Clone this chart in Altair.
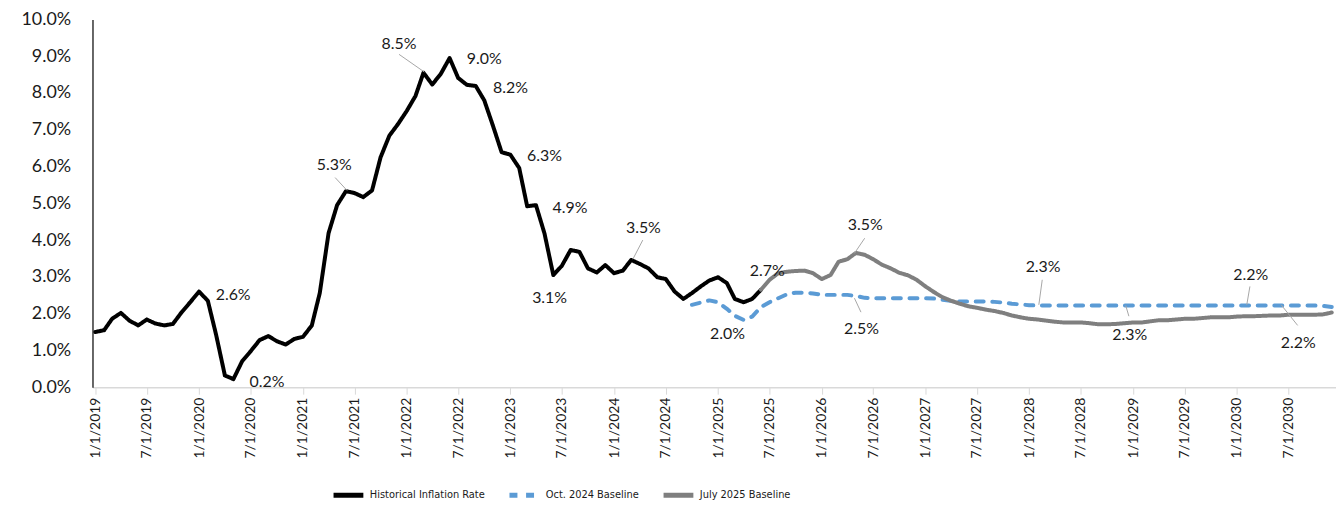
import altair as alt
import pandas as pd

# ---------------- data (percent) ----------------
hist_start = "2019-01-01"
hist_values = [
    1.50, 1.55, 1.86, 2.02, 1.81, 1.68, 1.84, 1.73, 1.68, 1.72, 2.04, 2.31,
    2.60, 2.35, 1.43, 0.32, 0.22, 0.71, 0.98, 1.28, 1.39, 1.25, 1.16, 1.31,
    1.37, 1.68, 2.56, 4.19, 4.95, 5.33, 5.28, 5.17, 5.35, 6.25, 6.84, 7.15,
    7.51, 7.92, 8.55, 8.23, 8.52, 8.95, 8.41, 8.22, 8.19, 7.80, 7.10, 6.39,
    6.32, 5.96, 4.92, 4.95, 4.18, 3.05, 3.30, 3.73, 3.68, 3.23, 3.12, 3.32,
    3.10, 3.17, 3.46, 3.35, 3.23, 2.99, 2.94, 2.60, 2.40, 2.56, 2.74, 2.90,
    2.99, 2.83, 2.40, 2.31, 2.40, 2.65,
]

oct24_start = "2024-10-01"
oct24_values = [
    2.24, 2.30, 2.36,
    2.31, 2.13, 1.94, 1.83, 1.92, 2.18, 2.31, 2.42, 2.53, 2.57, 2.57, 2.55,
    2.51, 2.51, 2.51, 2.51, 2.48, 2.43, 2.42, 2.42, 2.42, 2.42, 2.42, 2.42,
    2.42, 2.41, 2.38, 2.35, 2.33, 2.33, 2.33, 2.33, 2.32, 2.30, 2.27, 2.25,
    2.23, 2.22, 2.22, 2.22, 2.22, 2.22, 2.22, 2.22, 2.22, 2.22, 2.22, 2.22,
    2.22, 2.22, 2.22, 2.22, 2.22, 2.22, 2.22, 2.22, 2.22, 2.22, 2.22, 2.22,
    2.22, 2.22, 2.22, 2.22, 2.22, 2.22, 2.22, 2.22, 2.22, 2.22, 2.21, 2.18,
]

jul25_start = "2025-06-01"
jul25_values = [
    2.65, 2.92, 3.10, 3.14, 3.16, 3.17, 3.10,
    2.94, 3.05, 3.41, 3.48, 3.65, 3.60, 3.48, 3.33, 3.23, 3.11, 3.04, 2.92,
    2.74, 2.58, 2.45, 2.35, 2.27, 2.20, 2.16, 2.11, 2.07, 2.02, 1.95, 1.90,
    1.86, 1.84, 1.81, 1.78, 1.76, 1.76, 1.76, 1.74, 1.71, 1.71, 1.72, 1.74,
    1.76, 1.76, 1.79, 1.82, 1.82, 1.84, 1.86, 1.86, 1.88, 1.90, 1.90, 1.90,
    1.92, 1.93, 1.93, 1.94, 1.95, 1.95, 1.97, 1.97, 1.97, 1.97, 1.98, 2.03,
]

series_names = ["Historical Inflation Rate", "Oct. 2024 Baseline", "July 2025 Baseline"]
series_colors = ["#000000", "#5B9BD5", "#7F7F7F"]
series_dashes = [[1, 0], [8, 8.7], [1, 0]]

# data labels
ann_text = ["2.6%", "0.2%", "5.3%", "8.5%", "9.0%", "8.2%", "6.3%", "4.9%", "3.5%",
            "3.1%", "2.0%", "2.7%", "3.5%", "2.5%", "2.3%", "2.3%", "2.2%", "2.2%"]
ann_date = ["2020-04-30", "2020-08-27", "2021-04-21", "2021-12-05", "2022-10-01",
            "2023-01-01", "2023-05-01", "2023-07-30", "2024-04-13", "2023-05-19",
            "2025-02-03", "2025-06-23", "2026-06-03", "2026-05-21", "2028-02-19",
            "2028-12-20", "2030-02-19", "2030-08-05"]
ann_value = [2.51, 0.14, 6.03, 9.34, 8.91, 8.13, 6.28, 4.87, 4.33,
             2.42, 1.45, 3.17, 4.41, 1.59, 3.28, 1.43, 3.05, 1.21]

# leader lines for some labels
lead_date1 = ["2021-04-24", "2021-12-05", "2024-04-11", "2026-06-01", "2026-04-26",
              "2028-02-16", "2028-12-06", "2030-02-16", "2030-06-06"]
lead_value1 = [5.70, 9.05, 4.00, 4.05, 2.42, 2.92, 2.22, 2.74, 2.24]
lead_date2 = ["2021-06-05", "2022-03-04", "2024-03-07", "2026-04-26", "2026-05-19",
              "2028-02-04", "2028-12-17", "2030-02-05", "2030-08-03"]
lead_value2 = [5.35, 8.57, 3.48, 3.64, 2.04, 2.24, 1.93, 2.24, 1.68]

tick_years = list(range(2019, 2031))
y_ticks = [0, 1, 2, 3, 4, 5, 6, 7, 8, 9, 10]

# ---------------- tables ----------------
frames = []
for name, start, vals in [(series_names[0], hist_start, hist_values),
                          (series_names[1], oct24_start, oct24_values),
                          (series_names[2], jul25_start, jul25_values)]:
    dates = pd.date_range(start, periods=len(vals), freq="MS")
    frames.append(pd.DataFrame({"date": dates.strftime("%Y-%m-%d"),
                                "value": vals, "series": name}))
lines_df = pd.concat(frames, ignore_index=True)
ann_df = pd.DataFrame({"text": ann_text, "date": ann_date, "value": ann_value})
lead_df = pd.DataFrame({"d1": lead_date1, "v1": lead_value1,
                        "d2": lead_date2, "v2": lead_value2})

tick_values = []
for yr in tick_years:
    tick_values.append(alt.DateTime(year=yr, month=1, date=1))
    tick_values.append(alt.DateTime(year=yr, month=7, date=1))

FONT = "Lato"
x_scale = alt.Scale(domain=["2018-12-22", "2030-12-16"])
y_scale = alt.Scale(domain=[0, 10], nice=False)

legend = alt.Legend(orient="none", legendX=240, legendY=461, direction="horizontal",
                    columns=3, title=None, symbolType="stroke", symbolSize=900,
                    symbolStrokeWidth=5, labelFont="DejaVu Sans Condensed, Lato",
                    labelFontSize=11, labelColor="#1a1a1a", labelOffset=4,
                    columnPadding=14, padding=0, labelLimit=300)

x_axis = alt.Axis(title=None, values=tick_values, format="%-m/%-d/%Y", labelAngle=270,
                  labelFont=FONT, labelFontSize=14, labelColor="#1a1a1a",
                  labelPadding=3, tickSize=7, tickColor="#D9D9D9", domainColor="#D9D9D9",
                  domainWidth=1.5, labelOverlap=False, labelFlush=False, labelBound=False,
                  grid=False)
y_axis = alt.Axis(title=None, values=y_ticks, labelExpr="format(datum.value/100, '.1%')",
                  labelFont=FONT, labelFontSize=18, labelColor="#1a1a1a", ticks=False,
                  labelPadding=22, domainColor="#000000", domainWidth=1.2, grid=False,
                  labelOverlap=False, labelFlush=False, labelBound=False)

lines = alt.Chart(lines_df).mark_line(strokeWidth=4, strokeCap="round", strokeJoin="round").encode(
    x=alt.X("date:T", scale=x_scale, axis=x_axis),
    y=alt.Y("value:Q", scale=y_scale, axis=y_axis),
    color=alt.Color("series:N", scale=alt.Scale(domain=series_names, range=series_colors),
                    legend=legend),
    strokeDash=alt.StrokeDash("series:N", scale=alt.Scale(domain=series_names, range=series_dashes),
                              legend=legend),
    order=alt.Order("date:T"),
)

leaders = alt.Chart(lead_df).mark_rule(color="#A6A6A6", strokeWidth=1).encode(
    x=alt.X("d1:T", scale=x_scale, axis=x_axis), x2="d2:T",
    y=alt.Y("v1:Q", scale=y_scale, axis=y_axis), y2="v2:Q",
)

labels = alt.Chart(ann_df).mark_text(font=FONT, fontSize=16, color="#1a1a1a",
                                     align="center", baseline="middle").encode(
    x=alt.X("date:T", scale=x_scale, axis=x_axis),
    y=alt.Y("value:Q", scale=y_scale, axis=y_axis),
    text="text:N",
)

chart = alt.layer(lines, leaders, labels).properties(
    width=1251, height=370,
    autosize=alt.AutoSizeParams(type="none"),
    padding={"left": 85, "top": 10, "right": 0, "bottom": 113},
).configure_view(strokeWidth=0)

chart.save("out.html", embed_options={"renderer": "svg", "actions": False})
